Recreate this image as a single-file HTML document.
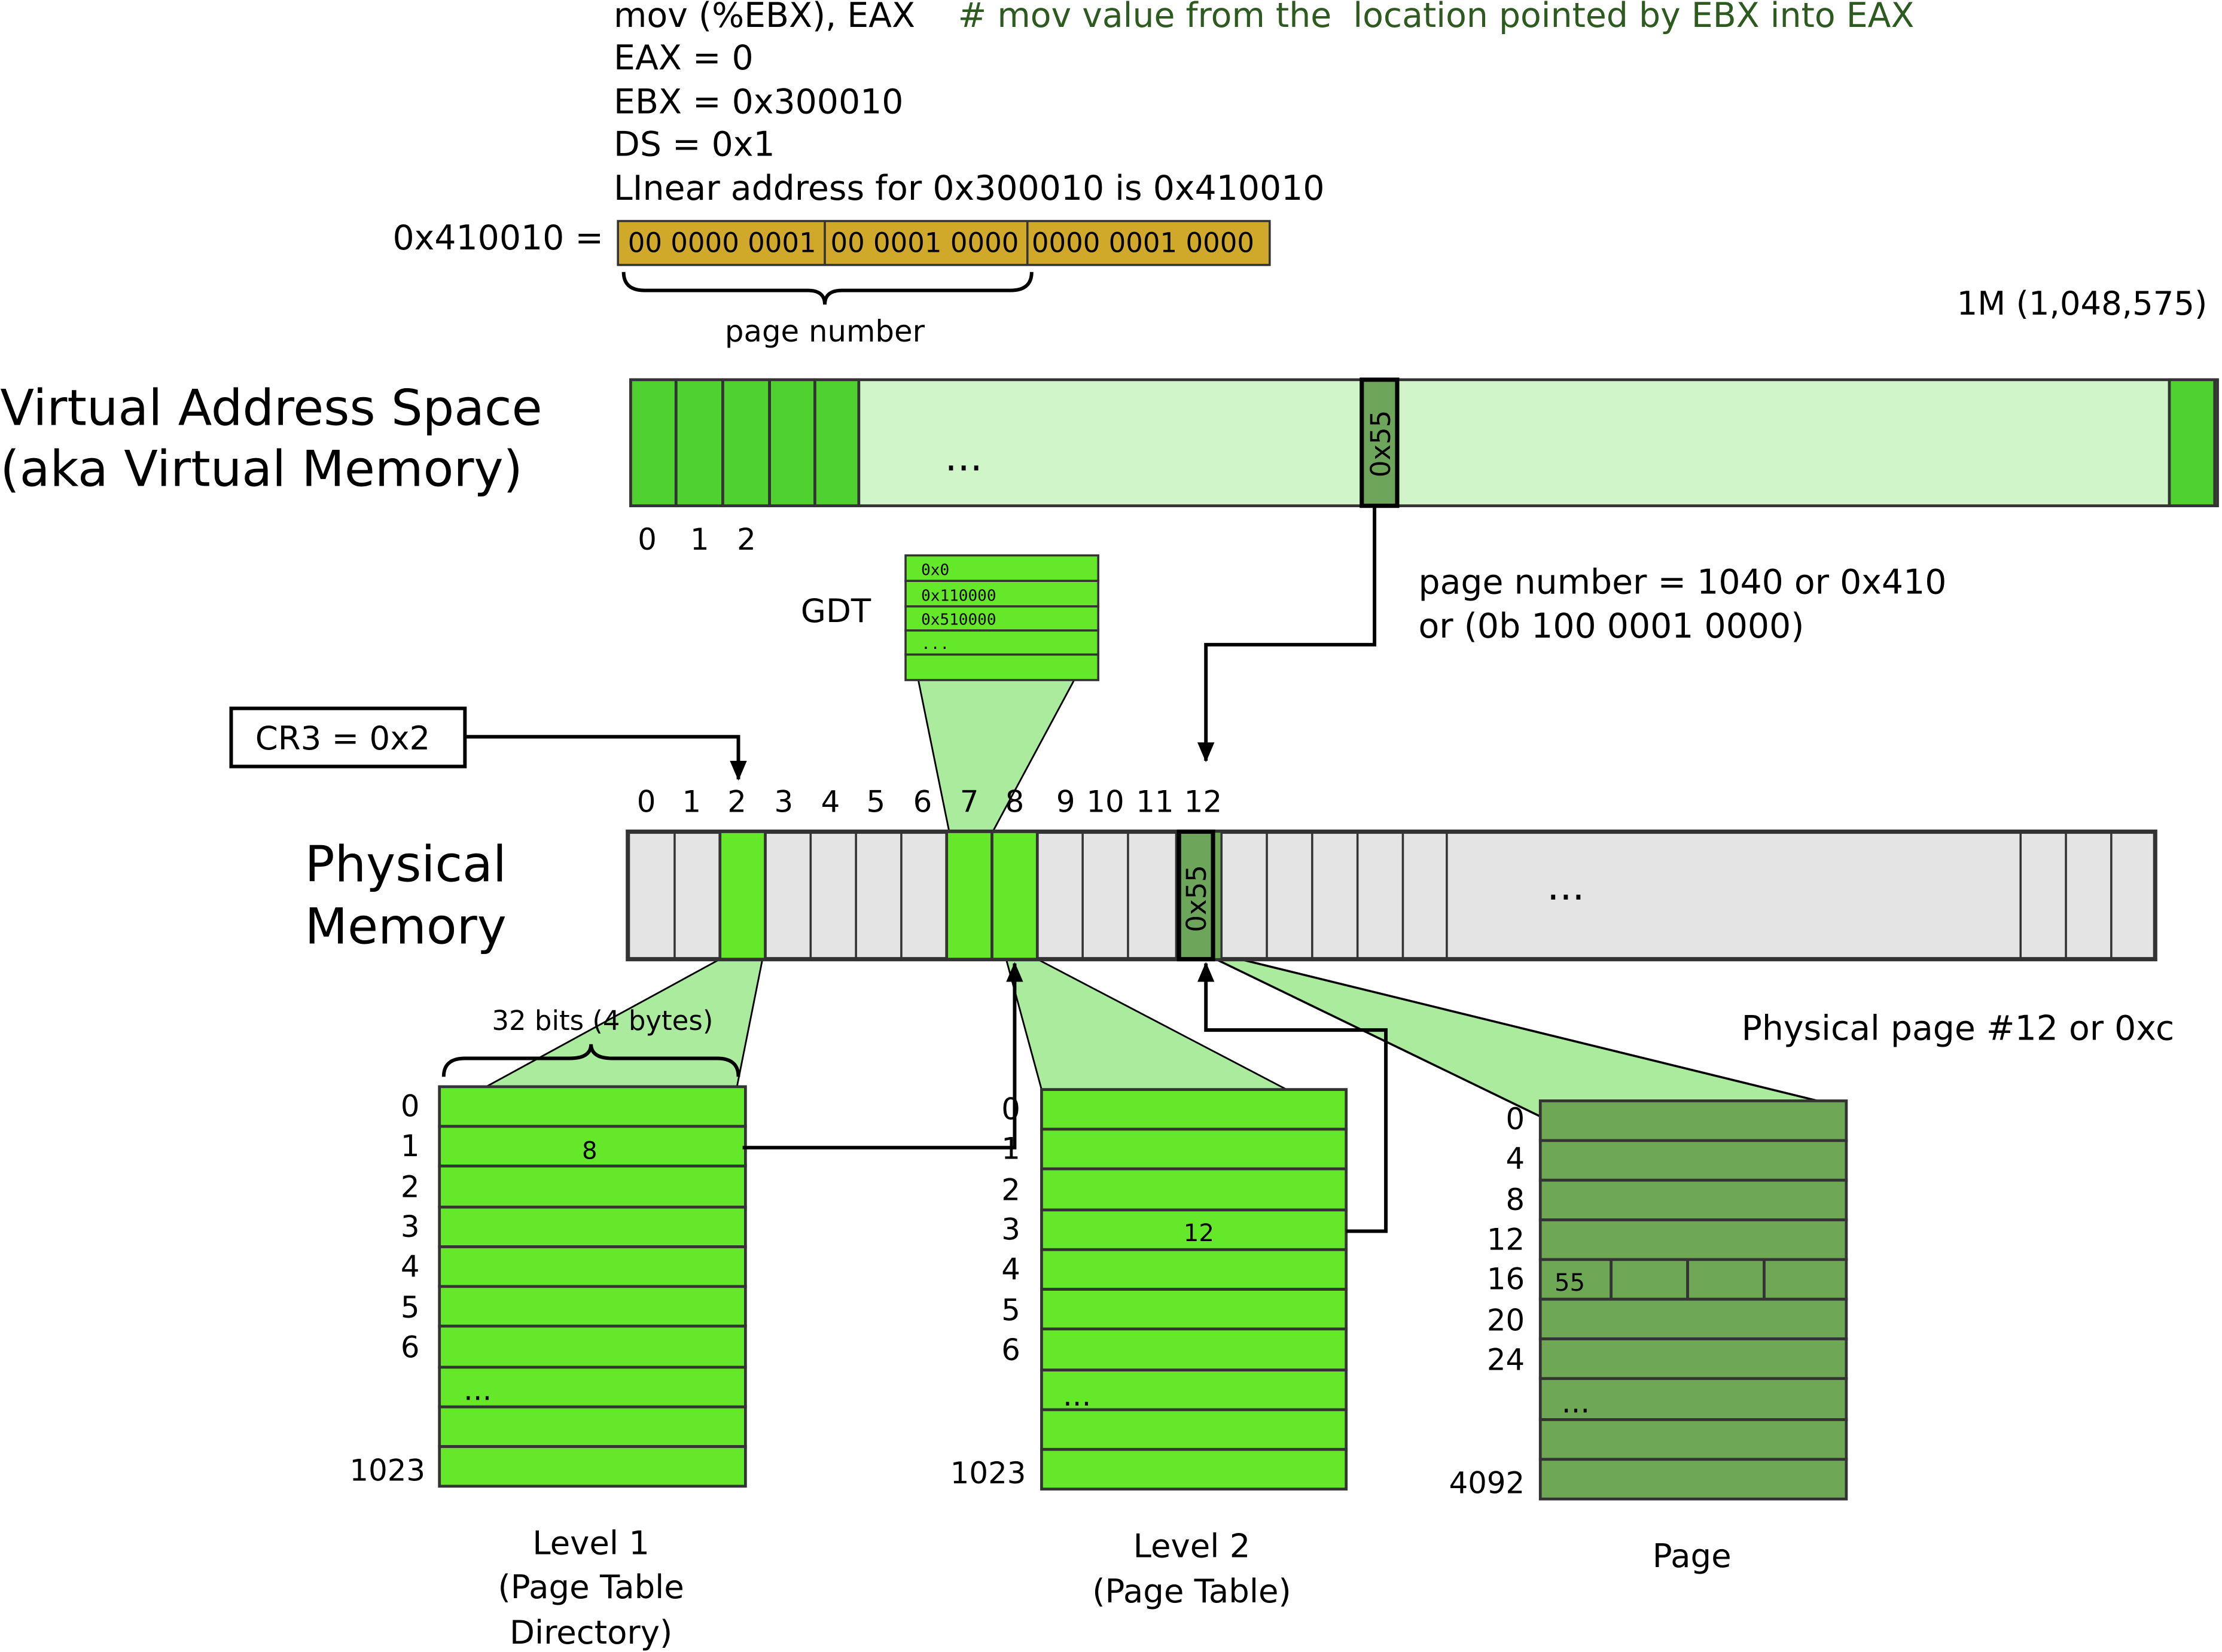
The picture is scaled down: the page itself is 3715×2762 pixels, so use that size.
<!DOCTYPE html>
<html><head><meta charset="utf-8"><style>
html,body{margin:0;padding:0;background:#fff;}
svg{display:block;}
text{font-family:"DejaVu Sans","Liberation Sans",sans-serif;fill:#000;white-space:pre;}
.m{font-family:"DejaVu Sans Mono","Liberation Mono",monospace;}
</style></head><body>
<svg width="3715" height="2762" viewBox="0 0 1568 1166" xmlns="http://www.w3.org/2000/svg" xml:space="preserve">
<defs><marker id="a2" markerWidth="14" markerHeight="12" refX="13" refY="6" orient="auto" markerUnits="userSpaceOnUse"><path d="M0,0 L14,6 L0,12 z" fill="#000"/></marker></defs>

<g font-size="24">
<text x="433" y="19">mov (%EBX), EAX</text>
<text x="676" y="19" style="fill:#2d5a1e"># mov value from the  location pointed by EBX into EAX</text>
<text x="433" y="49">EAX = 0</text>
<text x="433" y="80">EBX = 0x300010</text>
<text x="433" y="110">DS = 0x1</text>
<text x="433" y="141">LInear address for 0x300010 is 0x410010</text>
<text x="277" y="176">0x410010 =</text>
</g>
<rect x="436" y="156" width="460" height="31" fill="#d0a82a" stroke="#333" stroke-width="1.5"/>
<line x1="582" y1="156" x2="582" y2="187" stroke="#333" stroke-width="1.5"/>
<line x1="725" y1="156" x2="725" y2="187" stroke="#333" stroke-width="1.5"/>
<g font-size="19"><text x="443" y="178">00 0000 0001</text><text x="586" y="178">00 0001 0000</text><text x="728" y="178">0000 0001 0000</text></g>
<path d="M440,192 Q440,205 455,205 L570,205 Q582,205 582,215 Q582,205 594,205 L713,205 Q728,205 728,192" fill="none" stroke="#000" stroke-width="2.5"/>
<text x="582" y="241" font-size="21" text-anchor="middle">page number</text>
<text x="1381" y="222" font-size="23">1M (1,048,575)</text>

<g font-size="35"><text x="0" y="300">Virtual Address Space</text><text x="0" y="343">(aka Virtual Memory)</text></g>

<rect x="445" y="268" width="1120" height="89" fill="#d0f5c8" stroke="#333" stroke-width="2"/>
<g fill="#4fd12f" stroke="#333" stroke-width="2">
<rect x="445" y="268" width="32" height="89"/><rect x="477" y="268" width="33" height="89"/><rect x="510" y="268" width="33" height="89"/><rect x="543" y="268" width="32" height="89"/><rect x="575" y="268" width="31" height="89"/>
<rect x="1531" y="268" width="32" height="89"/></g>
<rect x="961" y="268" width="25" height="89" fill="#6da55a" stroke="#000" stroke-width="3"/>
<text transform="translate(981,337) rotate(-90)" font-size="19">0x55</text>
<text x="680" y="332" font-size="28" text-anchor="middle">...</text>
<g font-size="21"><text x="450" y="388">0</text><text x="487" y="388">1</text><text x="520" y="388">2</text></g>

<text x="565" y="439" font-size="23">GDT</text>
<polygon points="648,480 758,480 700,588 670,588" fill="#abeb9e" stroke="#000" stroke-width="1.2"/>
<g fill="#66e82a" stroke="#333" stroke-width="1.5">
<rect x="639" y="392" width="136" height="18"/><rect x="639" y="410" width="136" height="18"/><rect x="639" y="428" width="136" height="17"/><rect x="639" y="445" width="136" height="17"/><rect x="639" y="462" width="136" height="18"/></g>
<g font-size="11"><text class="m" x="650" y="406">0x0</text><text class="m" x="650" y="424">0x110000</text><text class="m" x="650" y="441">0x510000</text><text class="m" x="650" y="458">...</text></g>

<g font-size="24"><text x="1001" y="419">page number = 1040 or 0x410</text><text x="1001" y="450">or (0b 100 0001 0000)</text></g>
<path d="M970,357 L970,455 L851,455 L851,537" fill="none" stroke="#000" stroke-width="2.5" marker-end="url(#a2)"/>

<rect x="163" y="500" width="165" height="41" fill="#fff" stroke="#000" stroke-width="2.5"/>
<text x="180" y="529" font-size="23">CR3 = 0x2</text>
<path d="M328,520 L521,520 L521,550" fill="none" stroke="#000" stroke-width="2.5" marker-end="url(#a2)"/>

<g font-size="21" text-anchor="middle">
<text x="456" y="573">0</text><text x="488" y="573">1</text><text x="520" y="573">2</text><text x="553" y="573">3</text><text x="586" y="573">4</text><text x="618" y="573">5</text><text x="651" y="573">6</text><text x="684" y="573">7</text><text x="716" y="573">8</text><text x="752" y="573">9</text><text x="780" y="573">10</text><text x="815" y="573">11</text><text x="849" y="573">12</text></g>
<g font-size="35"><text x="215" y="622">Physical</text><text x="215" y="666">Memory</text></g>

<polygon points="508,677 538,677 520,767 343,767" fill="#abeb9e" stroke="#000" stroke-width="1.2"/>
<polygon points="710,677 732,677 908,769 735,769" fill="#abeb9e" stroke="#000" stroke-width="1.2"/>
<polygon points="858,677 875,677 1283,777 1087,788" fill="#abeb9e" stroke="#000" stroke-width="1.5"/>

<rect x="443" y="587" width="1078" height="90" fill="#e3e4e3" stroke="#333" stroke-width="3"/>
<g stroke="#333" stroke-width="1.5">
<line x1="476" y1="587" x2="476" y2="677"/><line x1="540" y1="587" x2="540" y2="677"/><line x1="572" y1="587" x2="572" y2="677"/><line x1="604" y1="587" x2="604" y2="677"/><line x1="636" y1="587" x2="636" y2="677"/><line x1="764" y1="587" x2="764" y2="677"/><line x1="796" y1="587" x2="796" y2="677"/><line x1="894" y1="587" x2="894" y2="677"/><line x1="926" y1="587" x2="926" y2="677"/><line x1="958" y1="587" x2="958" y2="677"/><line x1="990" y1="587" x2="990" y2="677"/><line x1="1021" y1="587" x2="1021" y2="677"/><line x1="1426" y1="587" x2="1426" y2="677"/><line x1="1458" y1="587" x2="1458" y2="677"/><line x1="1490" y1="587" x2="1490" y2="677"/></g>
<g fill="#66e82a" stroke="#333" stroke-width="2"><rect x="508" y="587" width="32" height="90"/><rect x="668" y="587" width="32" height="90"/><rect x="700" y="587" width="32" height="90"/></g>
<rect x="830" y="587" width="32" height="90" fill="#6fa855" stroke="#333" stroke-width="1.5"/>
<rect x="832" y="587" width="24" height="90" fill="#6da55a" stroke="#000" stroke-width="3"/>
<text transform="translate(851,658) rotate(-90)" font-size="19">0x55</text>
<text x="1105" y="635" font-size="28" text-anchor="middle">...</text>

<text x="1229" y="734" font-size="24">Physical page #12 or 0xc</text>

<text x="347" y="727" font-size="19">32 bits (4 bytes)</text>
<path d="M313,760 Q313,747 328,747 L402,747 Q417,747 417,737 Q417,747 432,747 L506,747 Q521,747 521,760" fill="none" stroke="#000" stroke-width="2.5"/>
<g fill="#66e82a" stroke="#333" stroke-width="2">
<rect x="310" y="767" width="216" height="28"/><rect x="310" y="795" width="216" height="28"/><rect x="310" y="823" width="216" height="29"/><rect x="310" y="852" width="216" height="28"/><rect x="310" y="880" width="216" height="28"/><rect x="310" y="908" width="216" height="28"/><rect x="310" y="936" width="216" height="29"/><rect x="310" y="965" width="216" height="28"/><rect x="310" y="993" width="216" height="28"/><rect x="310" y="1021" width="216" height="28"/></g>
<g font-size="21" text-anchor="end"><text x="296" y="788">0</text><text x="296" y="816">1</text><text x="296" y="845">2</text><text x="296" y="873">3</text><text x="296" y="901">4</text><text x="296" y="930">5</text><text x="296" y="958">6</text><text x="300" y="1045">1023</text></g>
<text x="327" y="988" font-size="21">...</text>
<text x="416" y="818" font-size="17" text-anchor="middle">8</text>

<g fill="#66e82a" stroke="#333" stroke-width="2">
<rect x="735" y="769" width="215" height="28"/><rect x="735" y="797" width="215" height="28"/><rect x="735" y="825" width="215" height="29"/><rect x="735" y="854" width="215" height="28"/><rect x="735" y="882" width="215" height="28"/><rect x="735" y="910" width="215" height="28"/><rect x="735" y="938" width="215" height="29"/><rect x="735" y="967" width="215" height="28"/><rect x="735" y="995" width="215" height="28"/><rect x="735" y="1023" width="215" height="28"/></g>
<g font-size="21" text-anchor="end"><text x="720" y="790">0</text><text x="720" y="818">1</text><text x="720" y="847">2</text><text x="720" y="875">3</text><text x="720" y="903">4</text><text x="720" y="932">5</text><text x="720" y="960">6</text><text x="724" y="1047">1023</text></g>
<text x="750" y="992" font-size="21">...</text>
<text x="846" y="876" font-size="17" text-anchor="middle">12</text>

<g fill="#6fa855" stroke="#333" stroke-width="2">
<rect x="1087" y="777" width="216" height="28"/><rect x="1087" y="805" width="216" height="28"/><rect x="1087" y="833" width="216" height="28"/><rect x="1087" y="861" width="216" height="28"/><rect x="1087" y="889" width="50" height="28"/><rect x="1137" y="889" width="54" height="28"/><rect x="1191" y="889" width="54" height="28"/><rect x="1245" y="889" width="58" height="28"/><rect x="1087" y="917" width="216" height="28"/><rect x="1087" y="945" width="216" height="28"/><rect x="1087" y="973" width="216" height="29"/><rect x="1087" y="1002" width="216" height="28"/><rect x="1087" y="1030" width="216" height="28"/></g>
<g font-size="21" text-anchor="end"><text x="1076" y="797">0</text><text x="1076" y="825">4</text><text x="1076" y="854">8</text><text x="1076" y="882">12</text><text x="1076" y="910">16</text><text x="1076" y="939">20</text><text x="1076" y="967">24</text><text x="1076" y="1054">4092</text></g>
<text x="1102" y="997" font-size="21">...</text>
<text x="1097" y="911" font-size="17">55</text>

<path d="M524,810 L716,810 L716,680" fill="none" stroke="#000" stroke-width="2.5" marker-end="url(#a2)"/>
<path d="M950,869 L978,869 L978,727 L851,727 L851,680" fill="none" stroke="#000" stroke-width="2.5" marker-end="url(#a2)"/>

<g font-size="23" text-anchor="middle">
<text x="417" y="1097">Level 1</text><text x="417" y="1128">(Page Table</text><text x="417" y="1160">Directory)</text>
<text x="841" y="1099">Level 2</text><text x="841" y="1131">(Page Table)</text>
<text x="1194" y="1106">Page</text></g>
</svg>
</body></html>
